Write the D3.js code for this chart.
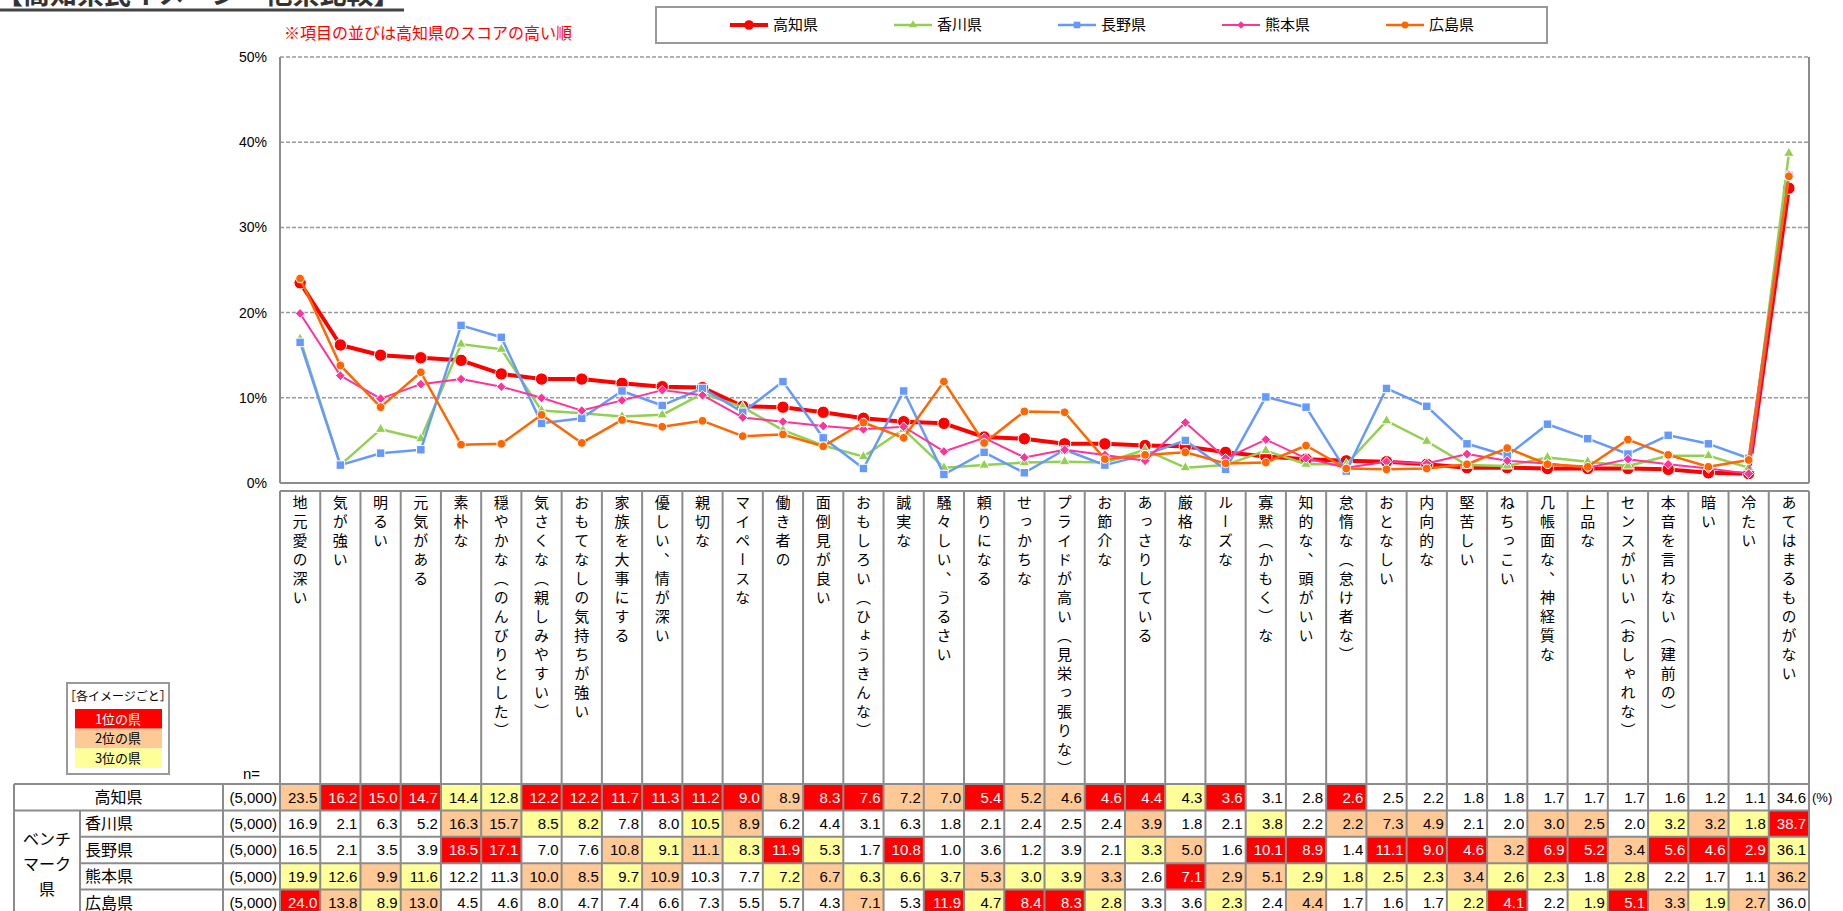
<!DOCTYPE html>
<html>
<head>
<meta charset="utf-8">
<script src="https://cdn.jsdelivr.net/npm/d3@7"></script>
<style>
    body { margin: 0; background: #fff; overflow: hidden; }
    svg { display: block; }
</style>
</head>
<body>
<svg id="chart" width="1843" height="911"></svg>
<script>
// ---- data ----
const categories = [
    "地元愛の深い", "気が強い", "明るい", "元気がある", "素朴な", "穏やかな（のんびりとした）",
    "気さくな（親しみやすい）", "おもてなしの気持ちが強い", "家族を大事にする", "優しい、情が深い",
    "親切な", "マイペースな", "働き者の", "面倒見が良い", "おもしろい（ひょうきんな）", "誠実な",
    "騒々しい、うるさい", "頼りになる", "せっかちな", "プライドが高い（見栄っ張りな）", "お節介な",
    "あっさりしている", "厳格な", "ルーズな", "寡黙（かもく）な", "知的な、頭がいい", "怠惰な（怠け者な）",
    "おとなしい", "内向的な", "堅苦しい", "ねちっこい", "几帳面な、神経質な", "上品な",
    "センスがいい（おしゃれな）", "本音を言わない（建前の）", "暗い", "冷たい", "あてはまるものがない"
];

const prefectures = ["高知県", "香川県", "長野県", "熊本県", "広島県"];
const sampleSizes = ["(5,000)", "(5,000)", "(5,000)", "(5,000)", "(5,000)"];

const kochi  = [23.5, 16.2, 15.0, 14.7, 14.4, 12.8, 12.2, 12.2, 11.7, 11.3, 11.2, 9.0, 8.9, 8.3, 7.6, 7.2, 7.0, 5.4, 5.2, 4.6, 4.6, 4.4, 4.3, 3.6, 3.1, 2.8, 2.6, 2.5, 2.2, 1.8, 1.8, 1.7, 1.7, 1.7, 1.6, 1.2, 1.1, 34.6];
const kagawa = [16.9, 2.1, 6.3, 5.2, 16.3, 15.7, 8.5, 8.2, 7.8, 8.0, 10.5, 8.9, 6.2, 4.4, 3.1, 6.3, 1.8, 2.1, 2.4, 2.5, 2.4, 3.9, 1.8, 2.1, 3.8, 2.2, 2.2, 7.3, 4.9, 2.1, 2.0, 3.0, 2.5, 2.0, 3.2, 3.2, 1.8, 38.7];
const nagano = [16.5, 2.1, 3.5, 3.9, 18.5, 17.1, 7.0, 7.6, 10.8, 9.1, 11.1, 8.3, 11.9, 5.3, 1.7, 10.8, 1.0, 3.6, 1.2, 3.9, 2.1, 3.3, 5.0, 1.6, 10.1, 8.9, 1.4, 11.1, 9.0, 4.6, 3.2, 6.9, 5.2, 3.4, 5.6, 4.6, 2.9, 36.1];
const kumamoto = [19.9, 12.6, 9.9, 11.6, 12.2, 11.3, 10.0, 8.5, 9.7, 10.9, 10.3, 7.7, 7.2, 6.7, 6.3, 6.6, 3.7, 5.3, 3.0, 3.9, 3.3, 2.6, 7.1, 2.9, 5.1, 2.9, 1.8, 2.5, 2.3, 3.4, 2.6, 2.3, 1.8, 2.8, 2.2, 1.7, 1.1, 36.2];
const hiroshima = [24.0, 13.8, 8.9, 13.0, 4.5, 4.6, 8.0, 4.7, 7.4, 6.6, 7.3, 5.5, 5.7, 4.3, 7.1, 5.3, 11.9, 4.7, 8.4, 8.3, 2.8, 3.3, 3.6, 2.3, 2.4, 4.4, 1.7, 1.6, 1.7, 2.2, 4.1, 2.2, 1.9, 5.1, 3.3, 1.9, 2.7, 36.0];

const yTicks = [0, 10, 20, 30, 40, 50];
// ties in the rounded values: which prefecture the source ranked higher
const tieBreaks = [[19, "熊本県"], [21, "長野県"], [27, "熊本県"]];
const rankLabels = ["1位の県", "2位の県", "3位の県"];
const benchLines = ["ベンチ", "マーク", "県"];

// ---- styles ----
const seriesStyle = {
    "高知県": { color: "#FF0000", symbol: d3.symbolCircle, size: 120, width: 4 },
    "香川県": { color: "#92D050", symbol: d3.symbolTriangle, size: 48, width: 2.5 },
    "長野県": { color: "#6699FF", symbol: d3.symbolSquare, size: 72, width: 2.5 },
    "熊本県": { color: "#FF3399", symbol: d3.symbolDiamond2, size: 60, width: 2 },
    "広島県": { color: "#FF6600", symbol: d3.symbolCircle, size: 60, width: 2.5 }
};
const rankFill = ["#FF0000", "#FFC996", "#FFFF99"];
const rankText = ["#FFFFFF", "#000000", "#000000"];
const JP = "'Noto Sans CJK JP', sans-serif";
const NUM = "'Liberation Sans', Arial, sans-serif";
const GRID = "#8C8C8C";

const series = [kochi, kagawa, nagano, kumamoto, hiroshima].map((values, i) => ({
    name: prefectures[i],
    values: values
}));

const plot = { left: 280, right: 1809, top: 57, bottom: 483 };

const svg = d3.select("#chart");

const x = d3.scaleBand().domain(categories).range([plot.left, plot.right]);
const y = d3.scaleLinear().domain([0, 50]).range([plot.bottom, plot.top]);
const cx = (i) => x(categories[i]) + x.bandwidth() / 2;

// ---- title (cropped at the top edge, as in the source) ----
svg.append("text")
    .attr("x", -4).attr("y", 4)
    .attr("font-family", JP).attr("font-size", 27).attr("font-weight", "bold")
    .attr("fill", "#333")
    .text("【高知県民イメージ　他県比較】");
svg.append("line")
    .attr("x1", 0).attr("x2", 404).attr("y1", 10).attr("y2", 10)
    .attr("stroke", "#444").attr("stroke-width", 3);

svg.append("text")
    .attr("x", 284).attr("y", 39)
    .attr("font-family", JP).attr("font-size", 16)
    .attr("fill", "#FF0000")
    .text("※項目の並びは高知県のスコアの高い順");

// ---- legend ----
const legend = svg.append("g");
legend.append("rect")
    .attr("x", 656).attr("y", 7).attr("width", 891).attr("height", 36)
    .attr("fill", "#fff").attr("stroke", "#999").attr("stroke-width", 2);

const legendItem = legend.selectAll("g.item")
    .data(series)
    .join("g")
    .attr("class", "item")
    .attr("transform", (d, i) => `translate(${730 + i * 164}, 25)`);

legendItem.append("line")
    .attr("x1", 0).attr("x2", 38)
    .attr("stroke", d => seriesStyle[d.name].color)
    .attr("stroke-width", d => seriesStyle[d.name].width);
legendItem.append("path")
    .attr("transform", "translate(19,0)")
    .attr("d", d => d3.symbol().type(seriesStyle[d.name].symbol).size(seriesStyle[d.name].size * 0.6)())
    .attr("fill", d => seriesStyle[d.name].color);
legendItem.append("text")
    .attr("x", 43).attr("dy", "0.35em")
    .attr("font-family", JP).attr("font-size", 15)
    .text(d => d.name);

// ---- plot area ----
svg.append("g")
    .selectAll("line")
    .data(yTicks.filter(t => t > 0))
    .join("line")
    .attr("x1", plot.left).attr("x2", plot.right)
    .attr("y1", d => y(d)).attr("y2", d => y(d))
    .attr("stroke", "#999").attr("stroke-width", 1.5)
    .attr("stroke-dasharray", "4,2");

const frame = svg.append("g").attr("stroke", GRID).attr("stroke-width", 2);
frame.append("line").attr("x1", plot.left).attr("x2", plot.left).attr("y1", plot.top).attr("y2", plot.bottom);
frame.append("line").attr("x1", plot.right).attr("x2", plot.right).attr("y1", plot.top).attr("y2", plot.bottom);
frame.append("line").attr("x1", plot.left).attr("x2", plot.right).attr("y1", plot.bottom).attr("y2", plot.bottom);

const yAxis = svg.append("g")
    .attr("transform", `translate(${plot.left},0)`)
    .call(d3.axisLeft(y).tickValues(yTicks).tickFormat(d => d + "%").tickSize(0).tickPadding(13));
yAxis.select(".domain").remove();
yAxis.selectAll("text")
    .attr("font-family", NUM).attr("font-size", 14).attr("fill", "#000");

// ---- series lines ----
const line = d3.line()
    .x((d, i) => cx(i))
    .y(d => y(d));

const seriesG = svg.append("g")
    .selectAll("g")
    .data(series)
    .join("g");

seriesG.append("path")
    .attr("d", d => line(d.values))
    .attr("fill", "none")
    .attr("stroke", d => seriesStyle[d.name].color)
    .attr("stroke-width", d => seriesStyle[d.name].width)
    .attr("stroke-linejoin", "round");

seriesG.each(function (s) {
    const st = seriesStyle[s.name];
    d3.select(this).selectAll("path.mark")
        .data(s.values)
        .join("path")
        .attr("class", "mark")
        .attr("transform", (d, i) => `translate(${cx(i)},${y(d)})`)
        .attr("d", d3.symbol().type(st.symbol).size(st.size)())
        .attr("fill", st.color)
        .attr("stroke", "#fff")
        .attr("stroke-width", 1);
});

// ---- category labels (vertical) ----
const labelTop = 491, tableTop = 784;
const labels = svg.append("g");
labels.selectAll("text")
    .data(categories)
    .join("text")
    .attr("x", d => x(d) + x.bandwidth() / 2)
    .attr("y", labelTop + 4)
    .style("writing-mode", "vertical-rl")
    .style("letter-spacing", "4px")
    .attr("font-family", JP).attr("font-size", 15)
    .text(d => d);

// ---- data table ----
const row = d3.scaleBand().domain(prefectures).range([tableTop, 916]);
const cols = { outer: 14, name: 80, n: 223 };

// rank of each prefecture per column
const ranks = categories.map((c, i) => {
    const scored = series.map(s => {
        const tb = tieBreaks.find(t => t[0] === i && t[1] === s.name);
        return { name: s.name, v: s.values[i] + (tb ? 0.01 : 0) };
    });
    scored.sort((a, b) => b.v - a.v);
    const r = {};
    scored.forEach((d, k) => { r[d.name] = k; });
    return r;
});

const cells = [];
series.forEach(s => {
    s.values.forEach((v, i) => {
        cells.push({ name: s.name, i: i, v: v, rank: ranks[i][s.name] });
    });
});

const table = svg.append("g");

table.selectAll("rect.cell")
    .data(cells.filter(d => d.rank < 3))
    .join("rect")
    .attr("class", "cell")
    .attr("x", d => x(categories[d.i]))
    .attr("y", d => row(d.name))
    .attr("width", x.bandwidth())
    .attr("height", row.bandwidth())
    .attr("fill", d => rankFill[d.rank]);

table.selectAll("text.val")
    .data(cells)
    .join("text")
    .attr("class", "val")
    .attr("x", d => x(categories[d.i]) + x.bandwidth() - 3)
    .attr("y", d => row(d.name) + row.bandwidth() / 2)
    .attr("dy", "0.36em")
    .attr("text-anchor", "end")
    .attr("font-family", NUM).attr("font-size", 15)
    .attr("fill", d => d.rank < 3 ? rankText[d.rank] : "#000")
    .text(d => d.v.toFixed(1));

// name + n columns
table.selectAll("text.name")
    .data(prefectures)
    .join("text")
    .attr("class", "name")
    .attr("x", (d, i) => i === 0 ? (cols.outer + cols.n) / 2 : cols.name + 5)
    .attr("y", d => row(d) + row.bandwidth() / 2)
    .attr("dy", "0.36em")
    .attr("text-anchor", (d, i) => i === 0 ? "middle" : "start")
    .attr("font-family", JP).attr("font-size", 16)
    .text(d => d);

table.selectAll("text.n")
    .data(prefectures)
    .join("text")
    .attr("class", "n")
    .attr("x", plot.left - 3)
    .attr("y", d => row(d) + row.bandwidth() / 2)
    .attr("dy", "0.36em")
    .attr("text-anchor", "end")
    .attr("font-family", NUM).attr("font-size", 15)
    .text((d, i) => sampleSizes[i]);

table.selectAll("text.bench")
    .data(benchLines)
    .join("text")
    .attr("class", "bench")
    .attr("x", (cols.outer + cols.name) / 2)
    .attr("y", (d, i) => 839 + i * 25)
    .attr("dy", "0.36em")
    .attr("text-anchor", "middle")
    .attr("font-family", JP).attr("font-size", 16)
    .text(d => d);

svg.append("text")
    .attr("x", 1812).attr("y", row("高知県") + row.bandwidth() / 2)
    .attr("dy", "0.36em")
    .attr("font-family", NUM).attr("font-size", 13)
    .text("(%)");

svg.append("text")
    .attr("x", 243).attr("y", 779)
    .attr("font-family", NUM).attr("font-size", 15)
    .text("n=");

// table borders
const borders = svg.append("g").attr("stroke", GRID).attr("stroke-width", 2).attr("fill", "none");
const bounds = [plot.left].concat(categories.map(c => x(c) + x.bandwidth()));
borders.selectAll("line.v")
    .data(bounds)
    .join("line")
    .attr("class", "v")
    .attr("x1", d => d).attr("x2", d => d)
    .attr("y1", labelTop).attr("y2", 916);
borders.append("line").attr("x1", plot.left).attr("x2", plot.right).attr("y1", labelTop).attr("y2", labelTop);
borders.selectAll("line.h")
    .data(prefectures)
    .join("line")
    .attr("class", "h")
    .attr("x1", (d, i) => i <= 1 ? cols.outer : cols.name)
    .attr("x2", plot.right)
    .attr("y1", d => row(d)).attr("y2", d => row(d));
[cols.outer, cols.n].forEach(v => {
    borders.append("line").attr("x1", v).attr("x2", v).attr("y1", tableTop).attr("y2", 916);
});
borders.append("line").attr("x1", cols.name).attr("x2", cols.name).attr("y1", row("香川県")).attr("y2", 916);

// ---- rank key ----
const key = svg.append("g");
key.append("rect")
    .attr("x", 67).attr("y", 683).attr("width", 102).attr("height", 91)
    .attr("fill", "#fff").attr("stroke", "#999").attr("stroke-width", 2);
key.append("text")
    .attr("x", 118).attr("y", 697).attr("dy", "0.36em")
    .attr("text-anchor", "middle")
    .attr("font-family", JP).attr("font-size", 12)
    .text("［各イメージごと］");
const keyBand = d3.scaleBand().domain(rankLabels).range([709, 768]);
key.selectAll("rect.band")
    .data(rankLabels)
    .join("rect")
    .attr("class", "band")
    .attr("x", 75).attr("width", 87)
    .attr("y", d => keyBand(d)).attr("height", keyBand.bandwidth())
    .attr("fill", (d, i) => rankFill[i]);
key.selectAll("text.band")
    .data(rankLabels)
    .join("text")
    .attr("class", "band")
    .attr("x", 118)
    .attr("y", d => keyBand(d) + keyBand.bandwidth() / 2)
    .attr("dy", "0.36em")
    .attr("text-anchor", "middle")
    .attr("font-family", JP).attr("font-size", 13)
    .attr("fill", (d, i) => rankText[i])
    .text(d => d);
</script>
</body>
</html>
